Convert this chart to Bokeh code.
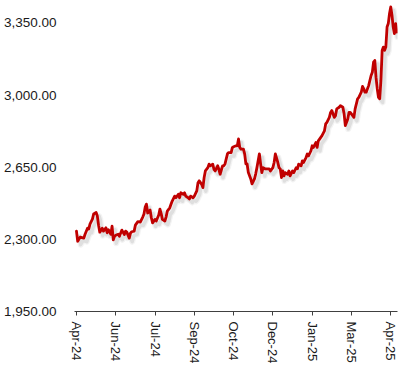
from bokeh.plotting import figure
from bokeh.models import Range1d, FixedTicker, NumeralTickFormatter
from bokeh.embed import file_html
from bokeh.resources import INLINE

# trading-day index and price
days = [0, 1, 3, 6, 7, 9, 10, 11, 13, 14,
        16, 17, 18, 19, 21, 22, 24, 25, 26, 28,
        29, 30, 31, 32, 34, 35, 37, 39, 40, 41,
        43, 44, 45, 47, 48, 50, 52, 54, 55, 56,
        57, 58, 60, 61, 62, 64, 65, 67, 68, 69,
        70, 72, 73, 74, 76, 77, 78, 80, 81, 83,
        84, 85, 87, 88, 89, 91, 92, 93, 95, 96,
        98, 99, 100, 102, 103, 104, 105, 107, 108, 109,
        111, 112, 113, 115, 116, 117, 119, 120, 121, 123,
        124, 126, 127, 128, 130, 131, 132, 133, 134, 136,
        137, 138, 139, 140, 142, 143, 145, 146, 147, 149,
        150, 151, 152, 154, 155, 157, 158, 160, 161, 162,
        164, 165, 166, 167, 168, 169, 170, 172, 173, 174,
        176, 177, 179, 180, 181, 183, 184, 185, 187, 188,
        189, 191, 192, 193, 195, 196, 197, 199, 200, 202,
        203, 204, 206, 207, 208, 210, 211, 212, 214, 215,
        217, 218, 219, 221, 222, 223, 225, 226, 227, 229,
        230, 232, 233, 234, 235, 236, 238, 239, 240, 241,
        242, 243, 244, 245, 246, 247, 248, 249, 250, 251,
        252, 253, 254, 255, 256, 257, 258, 259, 260, 261]

prices = [2340, 2291, 2311, 2306, 2325, 2354, 2350, 2374, 2398, 2423,
          2430, 2413, 2369, 2335, 2354, 2340, 2356, 2332, 2347, 2325,
          2364, 2298, 2315, 2320, 2325, 2315, 2345, 2323, 2340, 2335,
          2306, 2330, 2337, 2340, 2369, 2386, 2384, 2408, 2423, 2457,
          2471, 2428, 2442, 2405, 2380, 2397, 2389, 2418, 2447, 2425,
          2397, 2389, 2408, 2437, 2453, 2470, 2486, 2510, 2502, 2519,
          2502, 2526, 2519, 2526, 2510, 2502, 2496, 2510, 2502, 2510,
          2535, 2575, 2584, 2567, 2551, 2600, 2632, 2648, 2665, 2657,
          2665, 2640, 2632, 2657, 2640, 2616, 2657, 2657, 2666, 2715,
          2721, 2721, 2746, 2749, 2754, 2754, 2787, 2746, 2738, 2738,
          2715, 2666, 2666, 2624, 2593, 2569, 2593, 2618, 2648, 2715,
          2666, 2624, 2648, 2642, 2642, 2642, 2632, 2648, 2673, 2715,
          2673, 2648, 2642, 2600, 2632, 2608, 2624, 2616, 2632, 2608,
          2632, 2624, 2648, 2642, 2665, 2657, 2681, 2673, 2697, 2714,
          2705, 2730, 2754, 2746, 2770, 2746, 2778, 2795, 2803, 2827,
          2860, 2868, 2892, 2916, 2925, 2892, 2900, 2933, 2941, 2949,
          2941, 2909, 2852, 2884, 2916, 2916, 2900, 2892, 2933, 2982,
          2989, 3014, 3042, 3030, 3014, 3014, 3046, 3071, 3095, 3111,
          3160, 3168, 3087, 3030, 2989, 2982, 3071, 3217, 3233, 3217,
          3233, 3330, 3347, 3396, 3428, 3388, 3330, 3298, 3347, 3306]

tick_days = [0, 32, 64, 96, 128, 160, 192, 224, 256]
tick_labels = ["Apr-24", "Jun-24", "Jul-24", "Sep-24", "Oct-24",
               "Dec-24", "Jan-25", "Mar-25", "Apr-25"]
y_ticks = [1950, 2300, 2650, 3000, 3350]

FONT = "Liberation Sans"
TXT = "#1a1a1a"

p = figure(width=400, height=366, output_backend="svg", toolbar_location=None,
           x_range=Range1d(-1.6, 261.5), y_range=Range1d(1950, 3459),
           min_border_left=74, min_border_right=3, min_border_top=0,
           min_border_bottom=55)
p.outline_line_color = None
p.grid.visible = False
p.background_fill_color = "white"

# soft drop shadow
sx = [d + 2.4 for d in days]
sy = [v - 17 for v in prices]
p.line(sx, sy, line_color="#9a9a9a", line_width=6, line_alpha=0.12, line_join="round")
p.line(sx, sy, line_color="#9a9a9a", line_width=3.5, line_alpha=0.22, line_join="round")

p.line(days, prices, line_color="#C00000", line_width=2.8, line_join="round", line_cap="round")

xa = p.xaxis[0]
xa.ticker = FixedTicker(ticks=tick_days)
xa.major_label_overrides = {d: l for d, l in zip(tick_days, tick_labels)}
xa.major_label_orientation = "vertical"
xa.axis_line_color = "#404040"
xa.axis_line_width = 1
xa.major_tick_line_color = "#404040"
xa.major_tick_out = 4
xa.major_tick_in = 0
xa.minor_tick_line_color = None
xa.major_label_standoff = 6
xa.major_label_text_font = FONT
xa.major_label_text_font_size = "13px"
xa.major_label_text_color = TXT

ya = p.yaxis[0]
ya.ticker = FixedTicker(ticks=y_ticks)
ya.formatter = NumeralTickFormatter(format="0,0.00")
ya.axis_line_color = None
ya.major_tick_line_color = None
ya.minor_tick_line_color = None
ya.major_tick_out = 0
ya.major_tick_in = 0
ya.major_label_standoff = 18
ya.major_label_text_font = FONT
ya.major_label_text_font_size = "13.5px"
ya.major_label_text_color = TXT

open("out.html", "w").write(file_html(p, INLINE))
